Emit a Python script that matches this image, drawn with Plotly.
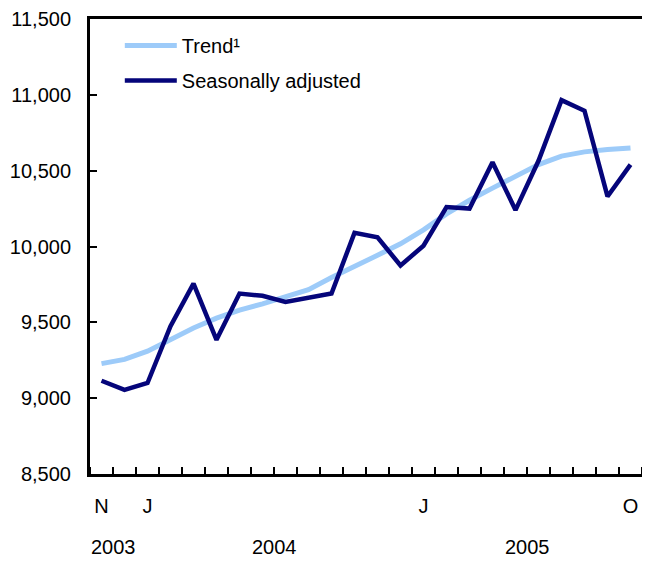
import plotly.graph_objects as go

# DATA ---------------------------------
months = ['Nov 2003', 'Dec 2003',
          'Jan 2004', 'Feb 2004', 'Mar 2004', 'Apr 2004', 'May 2004', 'Jun 2004',
          'Jul 2004', 'Aug 2004', 'Sep 2004', 'Oct 2004', 'Nov 2004', 'Dec 2004',
          'Jan 2005', 'Feb 2005', 'Mar 2005', 'Apr 2005', 'May 2005', 'Jun 2005',
          'Jul 2005', 'Aug 2005', 'Sep 2005', 'Oct 2005']

trend = [9228, 9256, 9310, 9387, 9463, 9528, 9580, 9622, 9665, 9715,
         9795, 9866, 9942, 10018, 10110, 10215, 10305, 10385, 10465, 10540,
         10596, 10624, 10639, 10650]

seasonal = [9115, 9055, 9100, 9475, 9755, 9385, 9690, 9675, 9635, 9660,
            9690, 10090, 10060, 9875, 10005, 10260, 10250, 10555, 10240, 10565,
            10965, 10895, 10330, 10540]

month_ticks = ['Nov 2003', 'Jan 2004', 'Jan 2005', 'Oct 2005']
month_text = ['N', 'J', 'J', 'O']

year_text = ['2003', '2004', '2005']
year_pos = [0.5, 7.5, 18.5]   # middle of each year's months

# FIGURE ---------------------------------
idx = list(range(len(months)))
font_fam = 'Liberation Sans, Arial, sans-serif'

fig = go.Figure()
fig.add_trace(go.Scatter(x=idx, y=trend, mode='lines', name='Trend¹',
                         line=dict(color='#9dcbf9', width=5),
                         legendgroup='a'))
fig.add_trace(go.Scatter(x=idx, y=seasonal, mode='lines', name='Seasonally adjusted',
                         line=dict(color='#05057a', width=4.5),
                         legendgroup='b'))

fig.update_xaxes(
    range=[-0.5, len(months) - 0.5],
    tickvals=[months.index(m) for m in month_ticks],
    ticktext=month_text,
    ticks='',
    ticklabelstandoff=12,
    ticklabeloverflow='allow',
    showgrid=False, zeroline=False,
    showline=True, linecolor='black', linewidth=2.5, mirror=True,
    minor=dict(tick0=-0.5, dtick=1, ticks='inside', ticklen=7,
               tickwidth=2, tickcolor='black', showgrid=False),
)
fig.update_yaxes(
    range=[8500, 11500], dtick=500, tickformat=',',
    ticks='inside', ticklen=7, tickwidth=2, tickcolor='black',
    ticklabelstandoff=12,
    ticklabeloverflow='allow',
    showgrid=False, zeroline=False,
    showline=True, linecolor='black', linewidth=3,
)

for t, p in zip(year_text, year_pos):
    fig.add_annotation(x=p, y=0, xref='x', yref='paper', text=t,
                       showarrow=False, yanchor='top', yshift=-60,
                       font=dict(size=20, color='black', family=font_fam))

# page body margin eats a few px on each side, so keep the figure inside it
fig.update_layout(
    width=634, height=551,
    margin=dict(l=82, r=0, t=7, b=85),
    plot_bgcolor='white', paper_bgcolor='white',
    font=dict(family=font_fam, size=20, color='black'),
    showlegend=True,
    legend=dict(x=0.054, y=0.9845, xanchor='left', yanchor='top',
                bgcolor='rgba(0,0,0,0)', tracegroupgap=6, itemwidth=52,
                traceorder='grouped', font=dict(size=20)),
)

fig.write_html("out.html")
